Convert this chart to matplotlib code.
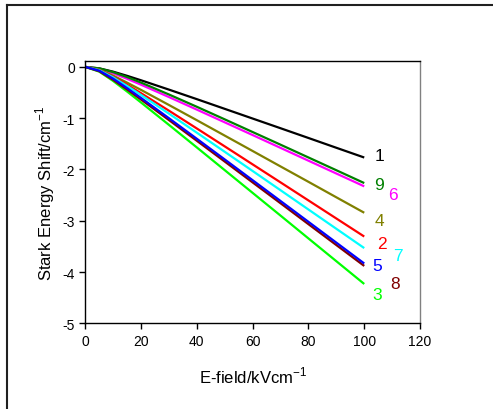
import matplotlib

matplotlib.use("Agg")
import matplotlib.pyplot as plt
from matplotlib.lines import Line2D

plt.rcParams["font.family"] = ["Liberation Sans", "DejaVu Sans"]
plt.rcParams["axes.unicode_minus"] = False

# E-field (kV/cm) and Stark shifts (cm^-1)
field = [0, 5, 10, 15, 20, 30, 40, 50, 60, 70, 80, 90, 100]
shift_1 = [0, -0.028, -0.093, -0.174, -0.261, -0.443, -0.629, -0.818, -1.007, -1.196, -1.386, -1.577, -1.767]
shift_9 = [0, -0.029, -0.102, -0.198, -0.306, -0.538, -0.778, -1.023, -1.270, -1.517, -1.766, -2.015, -2.265]
shift_6 = [0, -0.038, -0.125, -0.232, -0.348, -0.588, -0.833, -1.081, -1.329, -1.579, -1.829, -2.079, -2.329]
shift_4 = [0, -0.055, -0.171, -0.307, -0.449, -0.743, -1.040, -1.340, -1.640, -1.941, -2.241, -2.543, -2.844]
shift_2 = [0, -0.060, -0.192, -0.348, -0.513, -0.854, -1.201, -1.550, -1.901, -2.252, -2.604, -2.956, -3.308]
shift_7 = [0, -0.064, -0.205, -0.371, -0.548, -0.912, -1.283, -1.656, -2.030, -2.405, -2.781, -3.157, -3.533]
shift_5 = [0, -0.074, -0.230, -0.414, -0.606, -1.001, -1.402, -1.805, -2.210, -2.615, -3.021, -3.427, -3.833]
shift_8 = [0, -0.084, -0.252, -0.441, -0.637, -1.037, -1.441, -1.846, -2.253, -2.659, -3.067, -3.474, -3.881]
shift_3 = [0, -0.092, -0.275, -0.481, -0.695, -1.131, -1.571, -2.014, -2.457, -2.900, -3.345, -3.789, -4.233]

labels = ["1", "9", "6", "4", "2", "7", "5", "8", "3"]
series = [shift_1, shift_9, shift_6, shift_4, shift_2, shift_7, shift_5, shift_8, shift_3]
colors = ["#000000", "#008000", "#ff00ff", "#808000", "#ff0000",
          "#00ffff", "#0000ff", "#800000", "#00ff00"]
# label anchor positions in data coords
label_x = [105.6, 105.2, 110.4, 105.6, 106.2, 112.2, 104.7, 111.0, 104.7]
label_y = [-1.73, -2.29, -2.48, -3.00, -3.45, -3.68, -3.87, -4.23, -4.44]

fig = plt.figure(figsize=(4.93, 4.10), dpi=100)
ax = fig.add_axes([0.173, 0.209, 0.679, 0.640])

# draw order: brown goes under blue like the original
order = [0, 2, 1, 3, 4, 5, 8, 7, 6]
for i in order:
    ax.plot(field, series[i], color=colors[i], lw=1.6, solid_capstyle="butt")

for lab, x, y, c in zip(labels, label_x, label_y, colors):
    ax.text(x, y, lab, color=c, fontsize=12.5, ha="center", va="center")

ax.set_xlim(0, 120)
ax.set_ylim(-5, 0.117)
ax.set_xticks([0, 20, 40, 60, 80, 100, 120])
ax.set_yticks([0, -1, -2, -3, -4, -5])
ax.tick_params(direction="out", length=4, width=1, labelsize=10, top=False, right=False)
ax.spines["right"].set_color("#808080")
for s in ax.spines.values():
    s.set_linewidth(1.0)

ax.set_xlabel(r"E-field/kVcm$^{\mathregular{-1}}$", fontsize=12, labelpad=12)
ax.set_ylabel(r"Stark Energy Shift/cm$^{\mathregular{-1}}$", fontsize=12, labelpad=4)

# outer frame: only left and top edges show in the original
fx = 7 / 493
fy = 1 - 6 / 410
fig.add_artist(Line2D([fx, fx], [0, fy], transform=fig.transFigure, color="#202020", lw=1.5))
fig.add_artist(Line2D([fx, 1], [fy, fy], transform=fig.transFigure, color="#202020", lw=1.5))

fig.savefig("out.png", dpi=100)
